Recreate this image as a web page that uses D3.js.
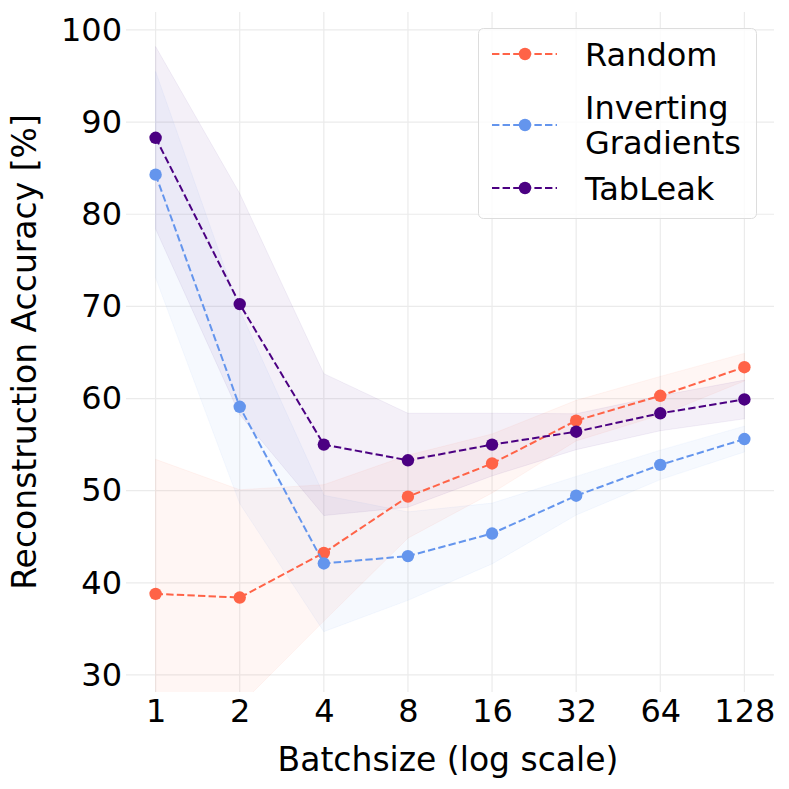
<!DOCTYPE html>
<html lang="en">
  <head>
    <meta charset="utf-8">
    <title>Reconstruction accuracy vs batchsize</title>
    <script src="https://d3js.org/d3.v7.min.js"></script>
    <style>
      body { margin: 0; background: #fff; }
      svg text { font-family: "DejaVu Sans", sans-serif; fill: #000; }
    </style>
  </head>
  <body>
    <div id="chart"></div>
    <script>
      // values
      var batchsizes = [1, 2, 4, 8, 16, 32, 64, 128];
      var randomMean = [38.8, 38.4, 43.25, 49.35, 52.95, 57.6, 60.3, 63.4];
      var randomErr  = [14.6, 11.7, 7.4, 4.5, 3.2, 2.2, 2.1, 1.5];
      var igMean     = [84.3, 59.1, 42.1, 42.9, 45.35, 49.45, 52.8, 55.6];
      var igErr      = [11.2, 10.5, 7.4, 4.8, 3.3, 2.1, 1.6, 1.4];
      var tabMean    = [88.3, 70.25, 55.0, 53.3, 55.0, 56.4, 58.4, 59.9];
      var tabErr     = [9.9, 12.0, 7.7, 5.1, 3.4, 1.95, 1.9, 2.1];
      var yTicks = [30, 40, 50, 60, 70, 80, 90, 100];

      var series = [
        { name: "Random", mean: randomMean, err: randomErr, color: "#ff6347" },
        { name: "Inverting Gradients", mean: igMean, err: igErr, color: "#6495ed" },
        { name: "TabLeak", mean: tabMean, err: tabErr, color: "#4b0082" }
      ];

      var W = 789, H = 789;
      var pLeft = 126, pRight = 774, pTop = 12, pBottom = 692;

      var svg = d3.select("#chart").append("svg")
        .attr("width", W).attr("height", H);

      var x = d3.scaleLog().base(2)
        .domain([Math.pow(2, -0.352), Math.pow(2, 7.352)])
        .range([pLeft, pRight]);
      var y = d3.scaleLinear().domain([28.15, 101.95]).range([pBottom, pTop]);

      svg.append("defs").append("clipPath").attr("id", "plotclip")
        .append("rect").attr("x", pLeft).attr("y", pTop)
        .attr("width", pRight - pLeft).attr("height", pBottom - pTop);

      // grid
      var grid = svg.append("g");
      grid.selectAll(".hg").data(yTicks).enter().append("line")
        .attr("x1", pLeft).attr("x2", pRight)
        .attr("y1", d => y(d)).attr("y2", d => y(d))
        .attr("stroke", "#ebebeb").attr("stroke-width", 1.2);
      grid.selectAll(".vg").data(batchsizes).enter().append("line")
        .attr("y1", pTop).attr("y2", pBottom)
        .attr("x1", d => x(d)).attr("x2", d => x(d))
        .attr("stroke", "#ebebeb").attr("stroke-width", 1.2);

      var plot = svg.append("g").attr("clip-path", "url(#plotclip)");

      // shaded bands
      series.forEach(function (s) {
        var area = d3.area()
          .x((d, i) => x(batchsizes[i]))
          .y0((d, i) => y(d - s.err[i]))
          .y1((d, i) => y(d + s.err[i]));
        plot.append("path").datum(s.mean)
          .attr("d", area)
          .attr("fill", s.color).attr("fill-opacity", 0.06)
          .attr("stroke", s.color).attr("stroke-opacity", 0.06);
      });

      // dashed lines and markers
      series.forEach(function (s) {
        var line = d3.line().x((d, i) => x(batchsizes[i])).y(d => y(d));
        plot.append("path").datum(s.mean)
          .attr("d", line).attr("fill", "none")
          .attr("stroke", s.color).attr("stroke-width", 2)
          .attr("stroke-dasharray", "7.4,3.2");
        plot.selectAll(null).data(s.mean).enter().append("circle")
          .attr("cx", (d, i) => x(batchsizes[i])).attr("cy", d => y(d))
          .attr("r", 6.2).attr("fill", s.color);
      });

      // axes (no spines, no tick marks)
      var xAxis = svg.append("g").attr("transform", "translate(0," + pBottom + ")")
        .call(d3.axisBottom(x).tickValues(batchsizes).tickFormat(d3.format("d")).tickSize(0).tickPadding(7));
      var yAxis = svg.append("g").attr("transform", "translate(" + pLeft + ",0)")
        .call(d3.axisLeft(y).tickValues(yTicks).tickSize(0).tickPadding(4));
      [xAxis, yAxis].forEach(function (a) {
        a.select(".domain").remove();
        a.selectAll("text").style("font-size", "32px").attr("fill", "#000")
          .style("font-family", "DejaVu Sans, sans-serif");
      });
      xAxis.selectAll("text").attr("dy", "0.71em");

      svg.append("text")
        .attr("x", (pLeft + pRight) / 2 - 2).attr("y", 771)
        .attr("text-anchor", "middle").style("font-size", "33px")
        .text("Batchsize (log scale)");
      svg.append("text")
        .attr("transform", "translate(36," + ((pTop + pBottom) / 2) + ") rotate(-90)")
        .attr("text-anchor", "middle").style("font-size", "33px")
        .text("Reconstruction Accuracy [%]");

      // legend
      var lg = svg.append("g");
      lg.append("rect").attr("x", 478.5).attr("y", 28.5)
        .attr("width", 278).attr("height", 190).attr("rx", 5)
        .attr("fill", "#fff").attr("fill-opacity", 0.8)
        .attr("stroke", "#dddddd").attr("stroke-width", 1);
      var rowsY = [54, 125, 188];
      var labels = [["Random"], ["Inverting", "Gradients"], ["TabLeak"]];
      series.forEach(function (s, i) {
        var g = lg.append("g").attr("transform", "translate(0," + rowsY[i] + ")");
        g.append("line").attr("x1", 492).attr("x2", 557)
          .attr("stroke", s.color).attr("stroke-width", 2)
          .attr("stroke-dasharray", "7.4,3.2");
        g.append("circle").attr("cx", 525).attr("r", 6.2).attr("fill", s.color);
        var t = g.append("text").attr("x", 585).style("font-size", "32px");
        var lines = labels[i];
        lines.forEach(function (l, j) {
          t.append("tspan").attr("x", 585)
            .attr("dy", j === 0 ? (0.36 - (lines.length - 1) * 0.56) + "em" : "1.12em")
            .text(l);
        });
      });
    </script>
  </body>
</html>
